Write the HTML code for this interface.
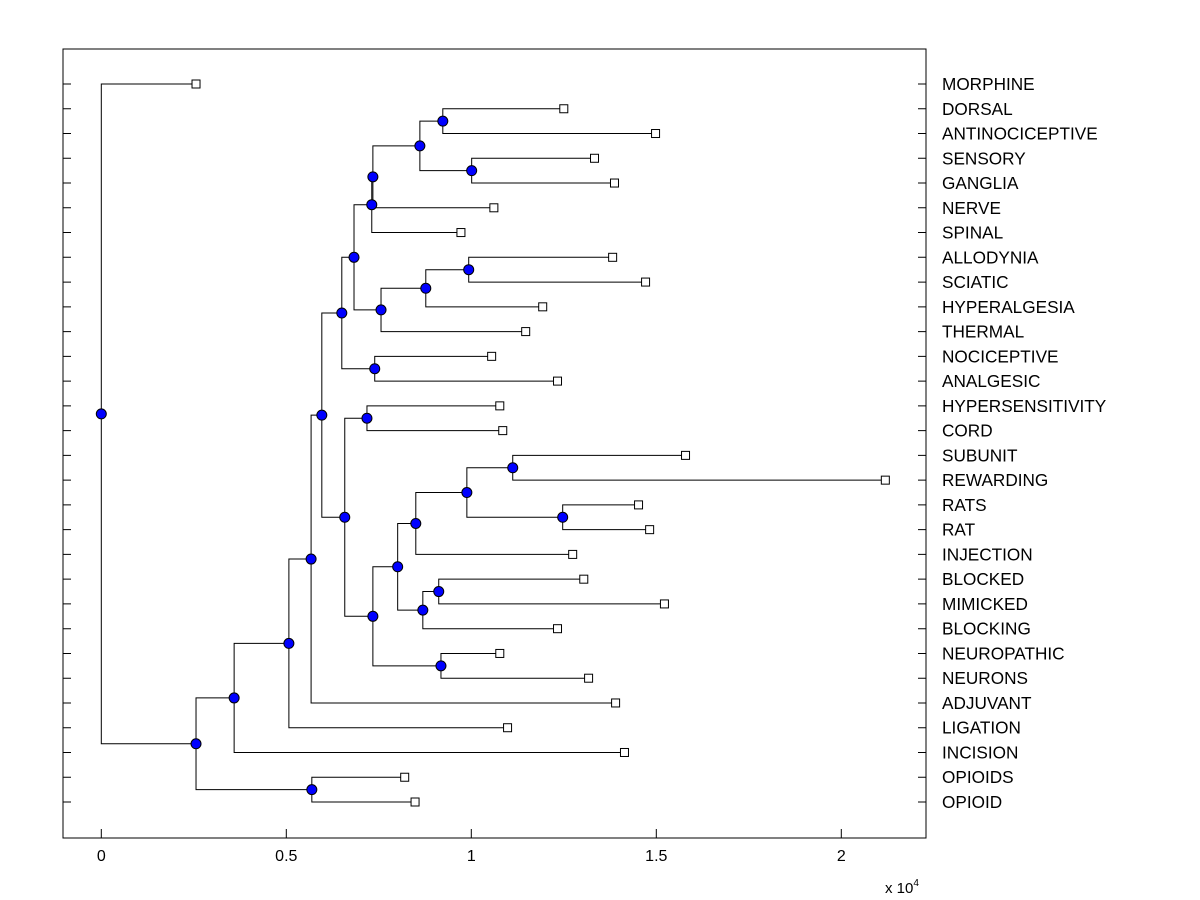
<!DOCTYPE html>
<html><head><meta charset="utf-8"><style>
body{margin:0;background:#fff}
svg{display:block;font-family:"Liberation Sans",Arial,sans-serif}
</style></head><body>
<svg id="chart" width="1200" height="900">
<rect x="63" y="49" width="863" height="789" fill="#fff" stroke="#000" stroke-width="1"/>
<g id="g"></g>
</svg>
<script>
const leafNames=["MORPHINE","DORSAL","ANTINOCICEPTIVE","SENSORY","GANGLIA","NERVE","SPINAL","ALLODYNIA","SCIATIC","HYPERALGESIA","THERMAL","NOCICEPTIVE","ANALGESIC","HYPERSENSITIVITY","CORD","SUBUNIT","REWARDING","RATS","RAT","INJECTION","BLOCKED","MIMICKED","BLOCKING","NEUROPATHIC","NEURONS","ADJUVANT","LIGATION","INCISION","OPIOIDS","OPIOID"];
const leafValues=[0.256,1.25,1.498,1.333,1.387,1.061,0.972,1.382,1.471,1.193,1.147,1.055,1.233,1.077,1.085,1.579,2.119,1.452,1.482,1.274,1.304,1.522,1.233,1.077,1.317,1.390,1.098,1.414,0.820,0.848];
const nodeNames=["n1","n2","n3","n4","n5","n7","n8","n9","n6","n10","n11","n12","n23","n24","n22","n15","n21","n20","n18","n19","n17","n13","n14","n25","n26","n27","n28","n29","root"];
const nodeLeft=["DORSAL","SENSORY","n1","n3","n4","ALLODYNIA","n7","n8","n5","NOCICEPTIVE","n6","HYPERSENSITIVITY","SUBUNIT","RATS","n23","n22","BLOCKED","n21","n15","NEUROPATHIC","n18","n12","n11","n14","n25","n26","OPIOIDS","n27","MORPHINE"];
const nodeRight=["ANTINOCICEPTIVE","GANGLIA","n2","NERVE","SPINAL","SCIATIC","HYPERALGESIA","THERMAL","n9","ANALGESIC","n10","CORD","REWARDING","RAT","n24","INJECTION","MIMICKED","BLOCKING","n20","NEURONS","n19","n17","n13","ADJUVANT","LIGATION","INCISION","OPIOID","n28","n29"];
const nodeHeights=[0.923,1.001,0.861,0.734,0.731,0.993,0.877,0.756,0.683,0.739,0.650,0.718,1.112,1.247,0.988,0.850,0.912,0.869,0.801,0.918,0.734,0.658,0.596,0.567,0.507,0.359,0.569,0.256,0];
const xTicks=[0,0.5,1,1.5,2];
const xTickLabels=["0","0.5","1","1.5","2"];

const NS="http://www.w3.org/2000/svg";
const g=document.getElementById('g');
const X=v=>101.3+v*370;
const Y=i=>84+i*(802-84)/(leafNames.length-1);
function mk(t,a,p){const e=document.createElementNS(NS,t);for(const k in a)e.setAttribute(k,a[k]);(p||g).appendChild(e);return e;}
const pos={};
leafNames.forEach((n,i)=>{pos[n]={x:X(leafValues[i]),y:Y(i)};});
nodeNames.forEach((n,i)=>{const a=pos[nodeLeft[i]],b=pos[nodeRight[i]];pos[n]={x:X(nodeHeights[i]),y:(a.y+b.y)/2};});
nodeNames.forEach((n,i)=>{
 const p=pos[n],a=pos[nodeLeft[i]],b=pos[nodeRight[i]];
 const l=mk('path',{d:`M${a.x},${a.y}H${p.x}V${b.y}H${b.x}`,fill:'none',stroke:'#000','stroke-width':1});
 
 
});
leafNames.forEach((n,i)=>{
 const p=pos[n];
 const s=mk('rect',{x:p.x-4,y:p.y-4,width:8,height:8,fill:'#fff',stroke:'#000','stroke-width':1});
 
 
 const t=mk('text',{x:942,y:p.y+6,'font-size':17.2,fill:'#000'});t.textContent=n;
 
 
 const tk=mk('path',{d:`M63,${p.y}H71M918,${p.y}H926`,stroke:'#000','stroke-width':1});
 
 
});
nodeNames.forEach(n=>{
 const p=pos[n];
 const c=mk('circle',{cx:p.x,cy:p.y,r:5,fill:'#0000ff',stroke:'#000','stroke-width':1});
 
 
});
xTicks.forEach((v,i)=>{
 const tk=mk('path',{d:`M${X(v)},838V829`,stroke:'#000','stroke-width':1});
 
 
 const t=mk('text',{x:X(v),y:861,'font-size':16,'text-anchor':'middle'});t.textContent=xTickLabels[i];
 
 
});
const ex=mk('text',{x:885,y:893,'font-size':15});


ex.innerHTML='x 10<tspan dy="-7" font-size="10">4</tspan>';
</script>
</body></html>
